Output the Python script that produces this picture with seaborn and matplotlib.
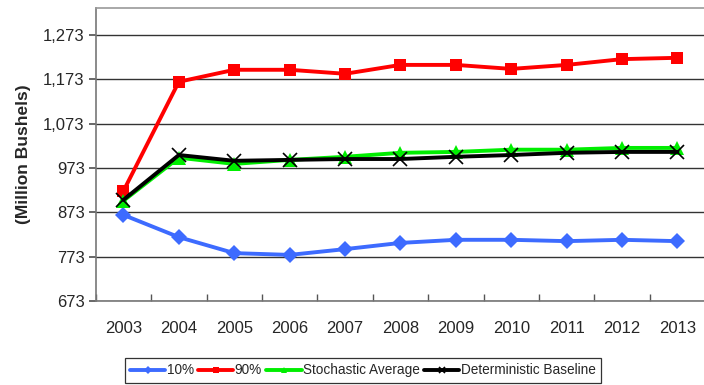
import matplotlib
matplotlib.use("Agg")
import matplotlib.pyplot as plt
import seaborn as sns
import pandas as pd
import numpy as np

years = ["2003", "2004", "2005", "2006", "2007", "2008", "2009", "2010", "2011", "2012", "2013"]
p10 = [867, 817, 781, 777, 790, 804, 811, 811, 808, 811, 808]
p90 = [921, 1167, 1194, 1194, 1185, 1205, 1205, 1196, 1205, 1218, 1221]
stoch_avg = [899, 996, 982, 991, 998, 1007, 1009, 1014, 1014, 1018, 1018]
det_base = [901, 1002, 989, 991, 993, 993, 998, 1002, 1007, 1009, 1009]
y_ticks = [673, 773, 873, 973, 1073, 1173, 1273]

sns.set_theme(style="white")
plt.rcParams["font.family"] = ["Liberation Sans", "DejaVu Sans"]

fig = plt.figure(figsize=(7.04, 3.85), dpi=100)
ax = fig.add_axes([0.136, 0.218, 0.868, 0.761])

xpos = np.arange(len(years))
series = [
    ("10%", p10, "#3d6bff", "D", 8, 0),
    ("90%", p90, "#ff0000", "s", 9, 0),
    ("Stochastic Average", stoch_avg, "#00ee00", "^", 10, 0),
    ("Deterministic Baseline", det_base, "#000000", "x", 10, 1.2),
]
for name, vals, color, marker, ms, mew in series:
    df = pd.DataFrame({"x": xpos, "v": vals})
    sns.lineplot(data=df, x="x", y="v", ax=ax, color=color, marker=marker,
                 markersize=ms, linewidth=2.8, label=name,
                 markeredgecolor=color, markeredgewidth=mew)

ax.set_xlim(-0.47, len(years) - 0.47)
ax.set_ylim(673, 1333)
ax.set_yticks(y_ticks)
ax.set_yticklabels([f"{v:,}" for v in y_ticks], fontsize=12)
ax.set_xticks(xpos)
ax.set_xticklabels(years, fontsize=12)
ax.set_xlabel("")
ax.set_ylabel("(Million Bushels)", fontsize=12.5, fontweight="bold", labelpad=9)

ax.yaxis.grid(True, color="#333333", linewidth=1.0)
ax.set_axisbelow(True)
ax.spines["right"].set_visible(False)
ax.spines["top"].set_color("#999999")
ax.spines["top"].set_linewidth(1.2)
for side in ["left", "bottom"]:
    ax.spines[side].set_color("#777777")
    ax.spines[side].set_linewidth(1.2)

# category boundary ticks on the x axis
ax.set_xticks(np.arange(-0.5, len(years) + 0.5, 1.0), minor=True)
ax.tick_params(axis="x", which="minor", length=5, color="#555555", direction="in", bottom=True)
ax.tick_params(axis="x", which="major", length=0, pad=14)
ax.tick_params(axis="y", which="major", length=5, color="#555555", direction="out", left=True, pad=3)

leg = ax.legend(loc="upper center", bbox_to_anchor=(0.437, -0.194), ncol=4, frameon=True,
                fontsize=9.8, handlelength=2.6, handletextpad=0.1, columnspacing=0.3,
                borderpad=0.4, borderaxespad=0.0, fancybox=False, edgecolor="black",
                markerscale=0.5)
leg.get_frame().set_linewidth(0.9)

fig.savefig("out.png", dpi=100)
